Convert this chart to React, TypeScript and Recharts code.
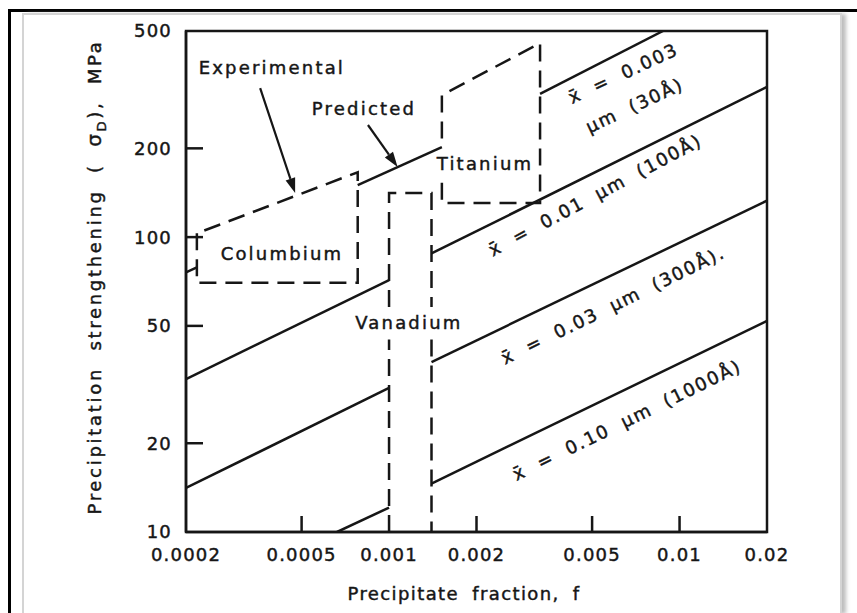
import React from 'react';
import { ComposedChart, Line, XAxis, YAxis, ReferenceArea, ReferenceLine, ReferenceDot } from 'recharts';

// ---- axes ----
const xTicks = [0.0002, 0.0005, 0.001, 0.002, 0.005, 0.01, 0.02];
const xTickLabels = ['0.0002', '0.0005', '0.001', '0.002', '0.005', '0.01', '0.02'];
const xInnerTicks = [0.0005, 0.002, 0.005, 0.01];
const yTicks = [10, 20, 50, 100, 200, 500];
const yInnerTicks = [20, 50, 100, 200];

// ---- predicted lines (f, sigma MPa), split where the element boxes interrupt them ----
const line30A_a = [{ f: 0.0002, v: 76 }, { f: 0.000218, v: 79 }];
const line30A_b = [{ f: 0.00078, v: 150 }, { f: 0.00152, v: 202 }];
const line30A_c = [{ f: 0.00331, v: 306 }, { f: 0.00877, v: 500 }];
const line100A_a = [{ f: 0.0002, v: 33 }, { f: 0.001, v: 71.5 }];
const line100A_b = [{ f: 0.0014, v: 88 }, { f: 0.02, v: 323 }];
const line300A_a = [{ f: 0.0002, v: 14.1 }, { f: 0.001, v: 30.8 }];
const line300A_b = [{ f: 0.0014, v: 37.7 }, { f: 0.02, v: 133 }];
const line1000A_a = [{ f: 0.000662, v: 10 }, { f: 0.001, v: 12.1 }];
const line1000A_b = [{ f: 0.0014, v: 14.6 }, { f: 0.02, v: 52 }];

// ---- experimental boxes (dashed) ----
const columbiumBox = [
  { f: 0.000218, v: 103 }, { f: 0.000218, v: 70 }, { f: 0.00078, v: 70 },
  { f: 0.00078, v: 166 }, { f: 0.000218, v: 103 },
];
const titaniumBox = [
  { f: 0.00152, v: 153 }, { f: 0.00152, v: 130.5 }, { f: 0.00331, v: 130.5 },
  { f: 0.00331, v: 455 }, { f: 0.00152, v: 303 }, { f: 0.00152, v: 202 },
];
const vanadiumBox = [
  { f: 0.001, v: 10 }, { f: 0.001, v: 45 }, { f: 0.001, v: null },
  { f: 0.001, v: 58 }, { f: 0.001, v: 141 }, { f: 0.0014, v: 141 }, { f: 0.0014, v: 58 },
  { f: 0.0014, v: null }, { f: 0.0014, v: 45 }, { f: 0.0014, v: 10 },
];

// ---- arrows ----
const arrowExperimental = [{ x: 0.00036, y: 320 }, { x: 0.000475, y: 141 }];
const arrowPredicted = [{ x: 0.000846, y: 240 }, { x: 0.00107, y: 173 }];

// ---- annotations ----
const noteText = [
  'Experimental', 'Predicted', 'Columbium', 'Titanium', 'Vanadium',
  'x\u0304 = 0.003', '\u03bcm (30\u00c5)',
  'x\u0304 = 0.01 \u03bcm (100\u00c5)',
  'x\u0304 = 0.03 \u03bcm (300\u00c5).',
  'x\u0304 = 0.10 \u03bcm (1000\u00c5)',
];
const noteF = [0.000395, 0.00082, 0.000428, 0.00214, 0.00117, 0.00639, 0.007, 0.00512, 0.0059, 0.00659];
const noteV = [377, 274, 88.3, 178, 51.5, 360, 280, 139, 58.9, 24];
const noteAngle = [0, 0, 0, 0, 0, -25, -25, -28, -26, -26];

const INK = '#161616';
const FONT = '"DejaVu Sans", Verdana, sans-serif';
const TXT = { fontFamily: FONT, fill: INK, stroke: INK, strokeWidth: 0.45 } as any;

function XTick(props: any) {
  const { x, y, payload } = props;
  const v = payload.value;
  const i = xTicks.indexOf(v);
  const axisY = y - 23;
  return (
    <g>
      {xInnerTicks.includes(v) && (
        <line x1={x} y1={axisY} x2={x} y2={axisY - 16} stroke={INK} strokeWidth={2.5} />
      )}
      <text x={x} y={y} dy="0.36em" textAnchor="middle" fontSize={18} letterSpacing={1.2} {...TXT}>
        {i >= 0 ? xTickLabels[i] : String(v)}
      </text>
    </g>
  );
}

function YTick(props: any) {
  const { x, y, payload } = props;
  const v = payload.value;
  const axisX = x + 14;
  return (
    <g>
      {yInnerTicks.includes(v) && (
        <line x1={axisX} y1={y} x2={axisX + 17} y2={y} stroke={INK} strokeWidth={2.5} />
      )}
      <text x={x} y={y} dy="0.36em" textAnchor="end" fontSize={18} letterSpacing={1.2} {...TXT}>
        {v}
      </text>
    </g>
  );
}

function ArrowShape(props: any) {
  const { x1, y1, x2, y2 } = props;
  const ang = Math.atan2(y2 - y1, x2 - x1);
  const len = 15;
  const half = 5;
  const bx = x2 - len * Math.cos(ang);
  const by = y2 - len * Math.sin(ang);
  const px = -Math.sin(ang) * half;
  const py = Math.cos(ang) * half;
  return (
    <g>
      <line x1={x1} y1={y1} x2={bx} y2={by} stroke={INK} strokeWidth={2.2} />
      <polygon points={`${x2},${y2} ${bx + px},${by + py} ${bx - px},${by - py}`} fill={INK} />
    </g>
  );
}

const noteShape = (i: number) => (p: any) => (
  <text x={p.cx} y={p.cy} dy="0.36em" textAnchor="middle"
    transform={noteAngle[i] ? `rotate(${noteAngle[i]} ${p.cx} ${p.cy})` : undefined}
    fontSize={18} letterSpacing={noteAngle[i] ? 1.8 : 2.2}
    wordSpacing={noteAngle[i] ? 7 : 0} {...TXT}>
    {noteText[i]}
  </text>
);

const solid = { stroke: INK, strokeWidth: 2.5, dot: false, activeDot: false, isAnimationActive: false, connectNulls: false } as any;
const dashed = { ...solid, strokeDasharray: '17 9' };

export default function App() {
  const segs = [line30A_a, line30A_b, line30A_c, line100A_a, line100A_b, line300A_a, line300A_b, line1000A_a, line1000A_b];
  return (
    <div style={{ position: 'absolute', left: 0, top: 0, width: 857, height: 613, background: '#fff', overflow: 'hidden' }}>
      <div style={{ position: 'absolute', left: 8, top: 9, width: 849, height: 3, background: '#000' }} />
      <div style={{ position: 'absolute', left: 8, top: 9, width: 3, height: 604, background: '#000' }} />
      <div style={{
        position: 'absolute', left: 22, top: 13, width: 816, height: 600,
        border: '2px solid #d4d4d4', borderBottom: 'none', boxShadow: '5px 0 4px -1px #bdbdbd',
        background: '#fff',
      }} />
      <div style={{ position: 'absolute', left: 0, top: 0 }}>
        <ComposedChart width={857} height={613} margin={{ top: 31, right: 90, bottom: 31, left: 126 }}>
          <XAxis dataKey="f" type="number" scale="log" domain={[0.0002, 0.02]} ticks={xTicks}
            allowDataOverflow interval={0} height={50} tickSize={0} tickMargin={23} tickLine={false}
            axisLine={{ stroke: INK, strokeWidth: 2.5 }} tick={<XTick />}
            label={{
              content: () => (
                <text x={464} y={594} dy="0.36em" textAnchor="middle" fontSize={18}
                  letterSpacing={1.4} wordSpacing={6} {...TXT}>Precipitate fraction, f</text>
              ),
            }} />
          <YAxis type="number" scale="log" domain={[10, 500]} ticks={yTicks}
            allowDataOverflow interval={0} width={60} tickSize={0} tickMargin={14} tickLine={false}
            axisLine={{ stroke: INK, strokeWidth: 2.5 }} tick={<YTick />}
            label={{
              content: () => (
                <text transform="translate(95,277) rotate(-90)" textAnchor="middle" dy="0.36em"
                  fontSize={18} letterSpacing={2.7} wordSpacing={8} {...TXT}>
                  Precipitation strengthening ( <tspan fontSize={20}>{'\u03c3'}</tspan>
                  <tspan dy={5} fontSize={13}>D</tspan><tspan dy={-5}>), MPa</tspan>
                </text>
              ),
            }} />
          <ReferenceArea x1={0.0002} x2={0.02} y1={10} y2={500} fill="none" stroke={INK} strokeWidth={2.5} />
          {segs.map((d, i) => (
            <Line key={'s' + i} data={d} dataKey="v" {...solid} />
          ))}
          <Line data={columbiumBox} dataKey="v" {...dashed} />
          <Line data={titaniumBox} dataKey="v" {...dashed} />
          <Line data={vanadiumBox} dataKey="v" {...dashed} />
          <ReferenceLine segment={arrowExperimental} shape={ArrowShape} />
          <ReferenceLine segment={arrowPredicted} shape={ArrowShape} />
          {noteText.map((t, i) => (
            <ReferenceDot key={'n' + i} x={noteF[i]} y={noteV[i]} r={1} shape={noteShape(i)} />
          ))}
        </ComposedChart>
      </div>
    </div>
  );
}
